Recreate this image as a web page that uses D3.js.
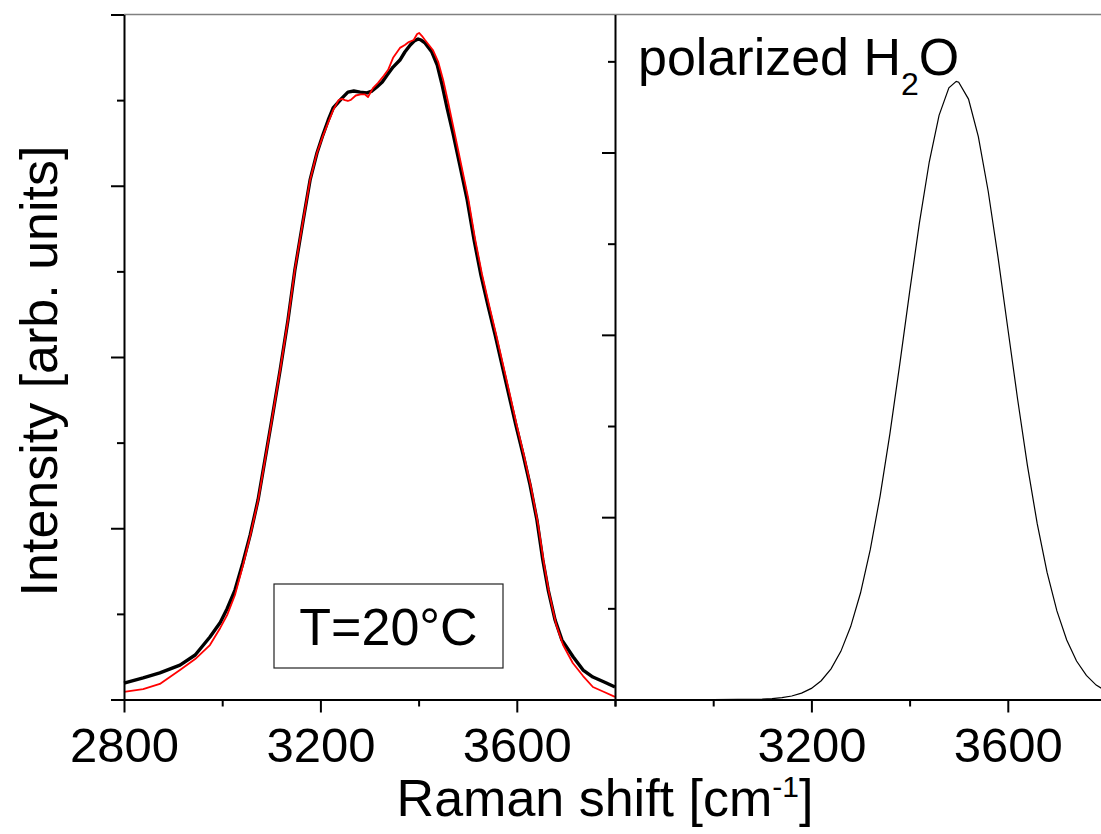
<!DOCTYPE html>
<html lang="en">
<head>
<meta charset="utf-8">
<title>raman water</title>
<script src="https://cdn.jsdelivr.net/npm/d3@7"></script>
<style>
  body { margin: 0; background: #fff; }
  text { font-family: "Liberation Sans", Arial, sans-serif; fill: #000; }
</style>
</head>
<body>
<div id="graph"></div>
<script>
// left panel, thick black spectrum (T=20°C)
var blackShift = [2800, 2839, 2873, 2914, 2945, 2975, 2996, 3010, 3026, 3042, 3057, 3073, 3087, 3101, 3118, 3134, 3148, 3165, 3179, 3193,
  3205, 3216, 3226, 3244, 3256, 3268, 3281, 3295, 3305, 3315, 3326, 3336, 3348, 3362, 3372, 3383, 3391, 3399, 3405, 3413,
  3427, 3438, 3448, 3458, 3470, 3484, 3499, 3513, 3527, 3541, 3556, 3570, 3584, 3598, 3613, 3627, 3641, 3653, 3664, 3678,
  3692, 3715, 3735, 3755, 3778, 3800];
var blackInt = [0.096, 0.126, 0.155, 0.201, 0.260, 0.365, 0.450, 0.530, 0.639, 0.797, 0.961, 1.165, 1.399, 1.632, 1.924, 2.216, 2.508, 2.800, 3.034, 3.191,
  3.296, 3.384, 3.454, 3.512, 3.547, 3.553, 3.547, 3.542, 3.553, 3.577, 3.606, 3.647, 3.693, 3.734, 3.781, 3.822, 3.845, 3.857, 3.851, 3.834,
  3.781, 3.705, 3.588, 3.454, 3.308, 3.121, 2.917, 2.683, 2.478, 2.304, 2.128, 1.953, 1.778, 1.603, 1.428, 1.253, 1.048, 0.815, 0.639, 0.464,
  0.347, 0.248, 0.172, 0.131, 0.102, 0.073];

// left panel, thin red spectrum
var redShift = [2800, 2839, 2873, 2914, 2945, 2975, 2996, 3010, 3026, 3042, 3057, 3073, 3087, 3101, 3118, 3134, 3148, 3165, 3179, 3193,
  3205, 3216, 3226, 3237, 3244, 3250, 3256, 3262, 3272, 3282, 3291, 3297, 3307, 3317, 3329, 3338, 3348, 3362, 3372, 3380,
  3390, 3397, 3401, 3407, 3413, 3421, 3429, 3440, 3450, 3460, 3472, 3486, 3501, 3515, 3529, 3543, 3558, 3572, 3586, 3600,
  3615, 3629, 3643, 3655, 3666, 3680, 3694, 3714, 3735, 3755, 3778, 3800];
var redInt = [0.044, 0.061, 0.091, 0.172, 0.236, 0.318, 0.418, 0.493, 0.610, 0.780, 0.955, 1.160, 1.395, 1.630, 1.924, 2.216, 2.510, 2.800, 3.034, 3.191,
  3.290, 3.370, 3.442, 3.500, 3.507, 3.500, 3.495, 3.501, 3.527, 3.533, 3.533, 3.518, 3.570, 3.600, 3.642, 3.677, 3.747, 3.805, 3.822, 3.839,
  3.851, 3.886, 3.892, 3.874, 3.851, 3.822, 3.793, 3.723, 3.618, 3.489, 3.326, 3.133, 2.928, 2.690, 2.485, 2.310, 2.130, 1.955, 1.780, 1.600,
  1.420, 1.240, 1.030, 0.800, 0.620, 0.440, 0.320, 0.213, 0.137, 0.073, 0.044, 0.015];

// right panel, polarized H2O component
var polShift = [2800, 2900, 3000, 3050, 3100, 3120, 3140, 3160, 3180, 3200, 3220, 3240, 3260, 3280, 3300, 3320, 3340, 3360, 3380, 3400,
  3420, 3440, 3460, 3480, 3495, 3500, 3520, 3540, 3560, 3580, 3600, 3620, 3640, 3660, 3680, 3700, 3720, 3740, 3760, 3780, 3800];
var polInt = [0, 0, 0.0001, 0.0005, 0.0025, 0.0051, 0.010, 0.019, 0.035, 0.061, 0.103, 0.168, 0.264, 0.400, 0.584, 0.823, 1.117, 1.460, 1.839, 2.234,
  2.614, 2.948, 3.204, 3.355, 3.390, 3.386, 3.293, 3.087, 2.789, 2.428, 2.036, 1.647, 1.283, 0.963, 0.697, 0.486, 0.326, 0.211, 0.132, 0.079, 0.046];

var xMajorLeft = [2800, 3200, 3600];
var xMinorLeft = [3000, 3400, 3800];
var xMajorRight = [3200, 3600];
var xMinorRight = [2800, 3000, 3400];
var yMajorLeft = [0, 1, 2, 3, 4];
var yMinorLeft = [0.5, 1.5, 2.5, 3.5];
var yMajorRight = [1, 2, 3];
var yMinorRight = [0.5, 1.5, 2.5, 3.5];

var W = 1101, H = 834;
var svg = d3.select("#graph").append("svg").attr("width", W).attr("height", H);

var xL = d3.scaleLinear().domain([2800, 3800]).range([124, 615]);
var yL = d3.scaleLinear().domain([0, 4]).range([699.5, 14.5]);
var xR = d3.scaleLinear().domain([2800, 3800]).range([615, 1106]);
var yR = d3.scaleLinear().domain([0, 3.757]).range([699.5, 14.5]);

function styleAxis(g, showDomain) {
  g.selectAll("line").attr("stroke", "#000").attr("stroke-width", 2);
  g.select(".domain").attr("stroke", showDomain ? "#000" : "none").attr("stroke-width", 2);
  g.selectAll("text").style("font-family", "'Liberation Sans', Arial, sans-serif").style("font-size", "49px").attr("fill", "#000");
}

// top frame line
svg.append("line")
  .attr("x1", 124).attr("x2", W)
  .attr("y1", 14.5).attr("y2", 14.5)
  .attr("stroke", "#808080").attr("stroke-width", 1.5);

// curves
var lineL = d3.line().x(d => xL(d[0])).y(d => yL(d[1]));
var lineR = d3.line().x(d => xR(d[0])).y(d => yR(d[1]));

svg.append("path")
  .datum(d3.zip(blackShift, blackInt))
  .attr("d", lineL)
  .attr("fill", "none").attr("stroke", "#000").attr("stroke-width", 3.4).attr("stroke-linejoin", "round");

svg.append("path")
  .datum(d3.zip(redShift, redInt))
  .attr("d", lineL)
  .attr("fill", "none").attr("stroke", "#ff0000").attr("stroke-width", 1.8).attr("stroke-linejoin", "round");

svg.append("path")
  .datum(d3.zip(polShift, polInt))
  .attr("d", lineR)
  .attr("fill", "none").attr("stroke", "#000").attr("stroke-width", 1.2);

// x axes
var gx1 = svg.append("g").attr("transform", "translate(0,699.5)")
  .call(d3.axisBottom(xL).tickValues(xMajorLeft).tickSize(13).tickSizeOuter(0).tickPadding(15).tickFormat(d3.format("d")));
styleAxis(gx1, true);
var gx2 = svg.append("g").attr("transform", "translate(0,699.5)")
  .call(d3.axisBottom(xL).tickValues(xMinorLeft).tickSize(7).tickSizeOuter(0).tickFormat(""));
styleAxis(gx2, false);
var gx3 = svg.append("g").attr("transform", "translate(0,699.5)")
  .call(d3.axisBottom(xR).tickValues(xMajorRight).tickSize(13).tickSizeOuter(0).tickPadding(15).tickFormat(d3.format("d")));
styleAxis(gx3, true);
var gx4 = svg.append("g").attr("transform", "translate(0,699.5)")
  .call(d3.axisBottom(xR).tickValues(xMinorRight).tickSize(7).tickSizeOuter(0).tickFormat(""));
styleAxis(gx4, false);

// y axes
var gy1 = svg.append("g").attr("transform", "translate(124,0)")
  .call(d3.axisLeft(yL).tickValues(yMajorLeft).tickSize(13).tickSizeOuter(0).tickFormat(""));
styleAxis(gy1, true);
var gy2 = svg.append("g").attr("transform", "translate(124,0)")
  .call(d3.axisLeft(yL).tickValues(yMinorLeft).tickSize(7).tickSizeOuter(0).tickFormat(""));
styleAxis(gy2, false);
var gy3 = svg.append("g").attr("transform", "translate(615,0)")
  .call(d3.axisLeft(yR).tickValues(yMajorRight).tickSize(13).tickSizeOuter(0).tickFormat(""));
styleAxis(gy3, true);
var gy4 = svg.append("g").attr("transform", "translate(615,0)")
  .call(d3.axisLeft(yR).tickValues(yMinorRight).tickSize(7).tickSizeOuter(0).tickFormat(""));
styleAxis(gy4, false);

// axis titles
svg.append("text")
  .attr("transform", "translate(57,371) rotate(-90)")
  .attr("text-anchor", "middle")
  .style("font-size", "52px")
  .text("Intensity [arb. units]");

var xt = svg.append("text")
  .attr("x", 605).attr("y", 816)
  .attr("text-anchor", "middle")
  .style("font-size", "52px");
xt.append("tspan").text("Raman shift [cm");
xt.append("tspan").attr("dy", -19).style("font-size", "30px").text("-1");
xt.append("tspan").attr("dy", 19).text("]");

// legend box
svg.append("rect")
  .attr("x", 274).attr("y", 584).attr("width", 229).attr("height", 84)
  .attr("fill", "#fff").attr("stroke", "#222").attr("stroke-width", 1.2);
svg.append("text")
  .attr("x", 388.5).attr("y", 645)
  .attr("text-anchor", "middle")
  .style("font-size", "52px")
  .text("T=20°C");

// panel label
var pl = svg.append("text")
  .attr("x", 638).attr("y", 75)
  .style("font-size", "52px");
pl.append("tspan").text("polarized H");
pl.append("tspan").attr("dy", 20).style("font-size", "32px").text("2");
pl.append("tspan").attr("dy", -20).text("O");
</script>
</body>
</html>
